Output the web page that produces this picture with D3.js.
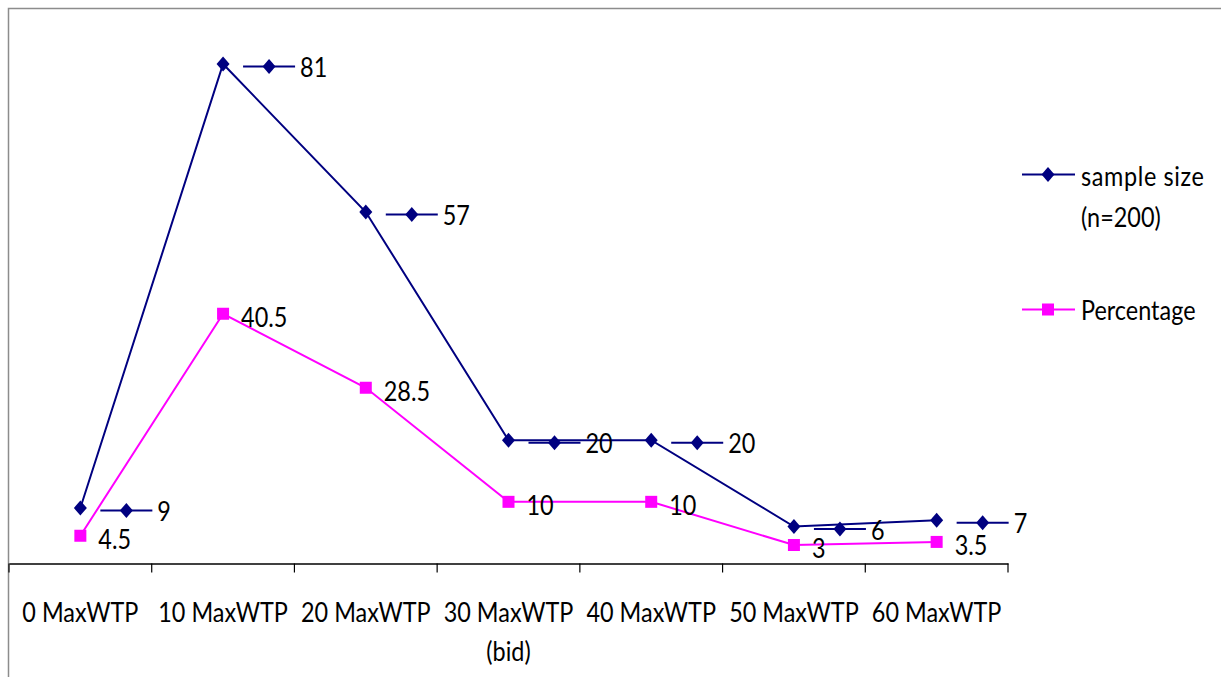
<!DOCTYPE html>
<html>
<head>
<meta charset="utf-8">
<script src="https://cdn.jsdelivr.net/npm/d3@7"></script>
<style>
  html, body { margin: 0; padding: 0; background: #fff; }
  svg { display: block; }
  text { font-family: Lato, "Open Sans", sans-serif; fill: #000; }
</style>
</head>
<body>
<svg id="chart" width="1221" height="677"></svg>
<script>
// Maximum willingness to pay, by bid level
const categories = ["0 MaxWTP", "10 MaxWTP", "20 MaxWTP", "30 MaxWTP (bid)", "40 MaxWTP", "50 MaxWTP", "60 MaxWTP"];
const categoryLines = [["0 MaxWTP"], ["10 MaxWTP"], ["20 MaxWTP"], ["30 MaxWTP", "(bid)"], ["40 MaxWTP"], ["50 MaxWTP"], ["60 MaxWTP"]];
const sampleSize = [9, 81, 57, 20, 20, 6, 7];
const percentage = [4.5, 40.5, 28.5, 10, 10, 3, 3.5];
const seriesNames = [["sample size", "(n=200)"], ["Percentage"]];
const yDomain = [0, 90];

const NAVY = "#000080", MAGENTA = "#ff00ff";
const FONT = 22, SX = 1.065, SY = 1.22;

const svg = d3.select("#chart");

// outer chart frame
svg.append("rect")
  .attr("x", 8.5).attr("y", 8.5)
  .attr("width", 1300).attr("height", 800)
  .attr("fill", "none").attr("stroke", "#8c8c8c").attr("stroke-width", 1.5);

const x = d3.scaleBand().domain(categories).range([9, 1008]).paddingInner(0).paddingOuter(0);
const y = d3.scaleLinear().domain(yDomain).range([563.5, 8.5]);
const cx = c => x(c) + x.bandwidth() / 2;

// stretched text helper
function label(g, tx, ty, str, anchor) {
  return g.append("text")
    .attr("transform", `translate(${tx},${ty}) scale(${SX},${SY})`)
    .attr("text-anchor", anchor || "start")
    .attr("font-size", FONT)
    .text(str);
}

// category axis: line plus ticks on band boundaries
const axisG = svg.append("g").attr("transform", `translate(0,${y(0)})`);
axisG.call(d3.axisBottom(x).tickSize(0).tickFormat(""))
  .call(g => g.select(".domain").attr("stroke", "#000").attr("stroke-width", 1.5));
const bounds = categories.map(c => x(c) + x.bandwidth()).concat([x(categories[0])]);
axisG.selectAll("line.bound").data(bounds).join("line")
  .attr("class", "bound")
  .attr("x1", d => d).attr("x2", d => d)
  .attr("y1", 0).attr("y2", 9)
  .attr("stroke", "#000").attr("stroke-width", 1.2);

const catG = svg.append("g");
categories.forEach((c, i) => {
  categoryLines[i].forEach((ln, j) => {
    label(catG, cx(c), 622 + j * 39, ln, "middle");
  });
});

const diamond = () => `M0,${-7.5}L${6.5},0L0,${7.5}L${-6.5},0Z`;

// series lines
const line = d3.line().x(d => cx(d.c)).y(d => y(d.v));
const sData = categories.map((c, i) => ({ c, v: sampleSize[i] }));
const pData = categories.map((c, i) => ({ c, v: percentage[i] }));

svg.append("path").datum(sData).attr("d", line)
  .attr("fill", "none").attr("stroke", NAVY).attr("stroke-width", 2);
svg.append("path").datum(pData).attr("d", line)
  .attr("fill", "none").attr("stroke", MAGENTA).attr("stroke-width", 2);

// markers
svg.append("g").selectAll("path").data(sData).join("path")
  .attr("transform", d => `translate(${cx(d.c)},${y(d.v)})`)
  .attr("d", diamond()).attr("fill", NAVY);
svg.append("g").selectAll("rect").data(pData).join("rect")
  .attr("x", d => cx(d.c) - 6).attr("y", d => y(d.v) - 6)
  .attr("width", 12).attr("height", 12).attr("fill", MAGENTA);

// percentage value labels
const pLab = svg.append("g");
pData.forEach(d => label(pLab, cx(d.c) + 18, y(d.v) + 13, d.v));

// sample size value labels with legend key
const sLab = svg.append("g");
sData.forEach(d => {
  const px = cx(d.c), py = y(d.v);
  sLab.append("line")
    .attr("x1", px + 20).attr("x2", px + 72)
    .attr("y1", py + 2.5).attr("y2", py + 2.5)
    .attr("stroke", NAVY).attr("stroke-width", 2);
  sLab.append("path")
    .attr("transform", `translate(${px + 46},${py + 2.5})`)
    .attr("d", diamond()).attr("fill", NAVY);
  label(sLab, px + 77, py + 13, d.v);
});

// legend
const leg = svg.append("g");
leg.append("line").attr("x1", 1022).attr("x2", 1075).attr("y1", 174.5).attr("y2", 174.5)
  .attr("stroke", NAVY).attr("stroke-width", 2);
leg.append("path").attr("transform", "translate(1048,174.5)").attr("d", diamond()).attr("fill", NAVY);
label(leg, 1081, 186, seriesNames[0][0]).attr("letter-spacing", 0.6);
label(leg, 1081, 227, seriesNames[0][1]);

leg.append("line").attr("x1", 1022).attr("x2", 1075).attr("y1", 309.5).attr("y2", 309.5)
  .attr("stroke", MAGENTA).attr("stroke-width", 2);
leg.append("rect").attr("x", 1042).attr("y", 303.5).attr("width", 12).attr("height", 12).attr("fill", MAGENTA);
label(leg, 1081, 320, seriesNames[1][0]);
</script>
</body>
</html>
